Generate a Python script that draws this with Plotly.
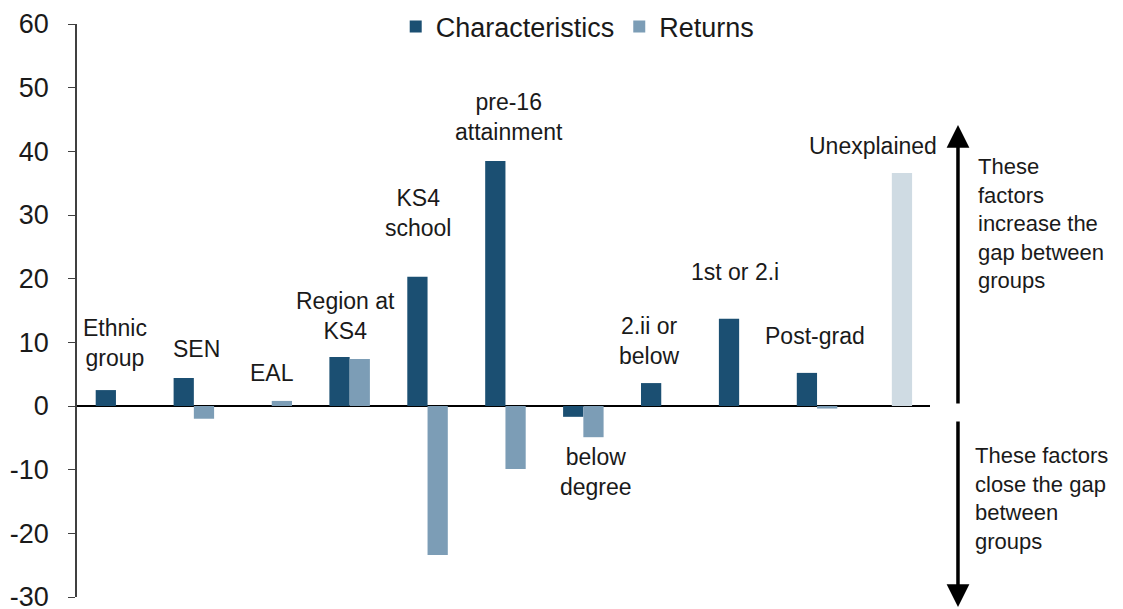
import plotly.graph_objects as go

categories = ["Ethnic group", "SEN", "EAL", "Region at KS4", "KS4 school",
              "pre-16 attainment", "below degree", "2.ii or below", "1st or 2.i",
              "Post-grad", "Unexplained"]
characteristics = [2.5, 4.4, 0, 7.7, 20.3, 38.5, -1.7, 3.6, 13.7, 5.2, None]
returns = [None, -2.0, 0.8, 7.4, -23.4, -9.9, -4.9, None, None, -0.4, None]
unexplained = [None] * 10 + [36.6]

bar_labels = ["Ethnic<br>group", "SEN", "EAL", "Region at<br>KS4", "KS4<br>school",
              "pre-16<br>attainment", "below<br>degree", "2.ii or<br>below", "1st or 2.i",
              "Post-grad", "Unexplained"]

tick_vals = [-30, -20, -10, 0, 10, 20, 30, 40, 50, 60]
tick_text = ["-30", "-20", "-10", "0", "10", "20", "30", "40", "50", "60"]

# label placement (layout only)
label_x = [-0.01, 1.03, 2.0, 2.95, 3.88, 5.05, 6.16, 6.84, 7.95, 8.97, 9.72]
label_y = [9.9, 8.9, 5.2, 14.1, 30.3, 45.4, -10.4, 10.2, 21.0, 11.0, 40.8]

C_CHAR = "#1b4f72"
C_RET = "#7c9db6"
C_UNEX = "#cfdbe3"
FONT = "Liberation Sans, Arial, sans-serif"
TXT = "#1a1a1a"

x = list(range(len(categories)))
W = 0.26

fig = go.Figure()
fig.add_trace(go.Bar(x=x, y=characteristics, name="Characteristics", marker_color=C_CHAR,
                     marker_line_width=0, width=W, offset=-W))
fig.add_trace(go.Bar(x=x, y=returns, name="Returns", marker_color=C_RET,
                     marker_line_width=0, width=W, offset=0))
fig.add_trace(go.Bar(x=x, y=unexplained, name="Unexplained", marker_color=C_UNEX,
                     marker_line_width=0, width=W, offset=-0.04, showlegend=False))

for t, xx, yy in zip(bar_labels, label_x, label_y):
    fig.add_annotation(x=xx, y=yy, text=t, showarrow=False,
                       font=dict(size=23, color=TXT, family=FONT),
                       xanchor="center", yanchor="middle")

# arrows on the right
fig.add_annotation(xref="paper", yref="paper", x=1.0328, y=(597 - 125) / 573,
                   ax=0, ay=280, axref="pixel", ayref="pixel", text="", showarrow=True,
                   arrowhead=2, arrowsize=1.3, arrowwidth=3.5, arrowcolor="#000000")
fig.add_annotation(xref="paper", yref="paper", x=1.0328, y=(597 - 607) / 573,
                   ax=0, ay=-187, axref="pixel", ayref="pixel", text="", showarrow=True,
                   arrowhead=2, arrowsize=1.3, arrowwidth=3.5, arrowcolor="#000000")
fig.add_annotation(xref="paper", yref="paper", x=1.054, y=(597 - 152) / 573,
                   xanchor="left", yanchor="top", align="left", showarrow=False,
                   text="These<br>factors<br>increase the<br>gap between<br>groups",
                   font=dict(size=22, color=TXT, family=FONT))
fig.add_annotation(xref="paper", yref="paper", x=1.050, y=(597 - 441) / 573,
                   xanchor="left", yanchor="top", align="left", showarrow=False,
                   text="These factors<br>close the gap<br>between<br>groups",
                   font=dict(size=22, color=TXT, family=FONT))

fig.update_layout(
    width=1115, height=601,
    margin=dict(l=69, r=193, t=16, b=12, autoexpand=False),
    paper_bgcolor="white", plot_bgcolor="white",
    barmode="overlay",
    font=dict(family=FONT, color=TXT),
    legend=dict(orientation="h", x=0.587, xanchor="center", y=0.995, yanchor="middle",
                font=dict(size=27, family=FONT, color=TXT), bgcolor="rgba(0,0,0,0)",
                traceorder="normal"),
    xaxis=dict(range=[-0.5, 10.45], showticklabels=False, showgrid=False,
               zeroline=False, showline=False, ticks="", automargin=False),
    yaxis=dict(range=[-30, 60], tickvals=tick_vals, ticktext=tick_text, showgrid=False,
               zeroline=True, zerolinecolor="#000000", zerolinewidth=1.5,
               showline=True, linecolor="#404040", linewidth=1.5,
               ticks="outside", ticklen=7, tickcolor="#404040", automargin=False,
               ticklabeloverflow="allow", ticklabelstandoff=14,
               tickfont=dict(size=27, family=FONT, color=TXT)),
)

fig.write_html("out.html")
